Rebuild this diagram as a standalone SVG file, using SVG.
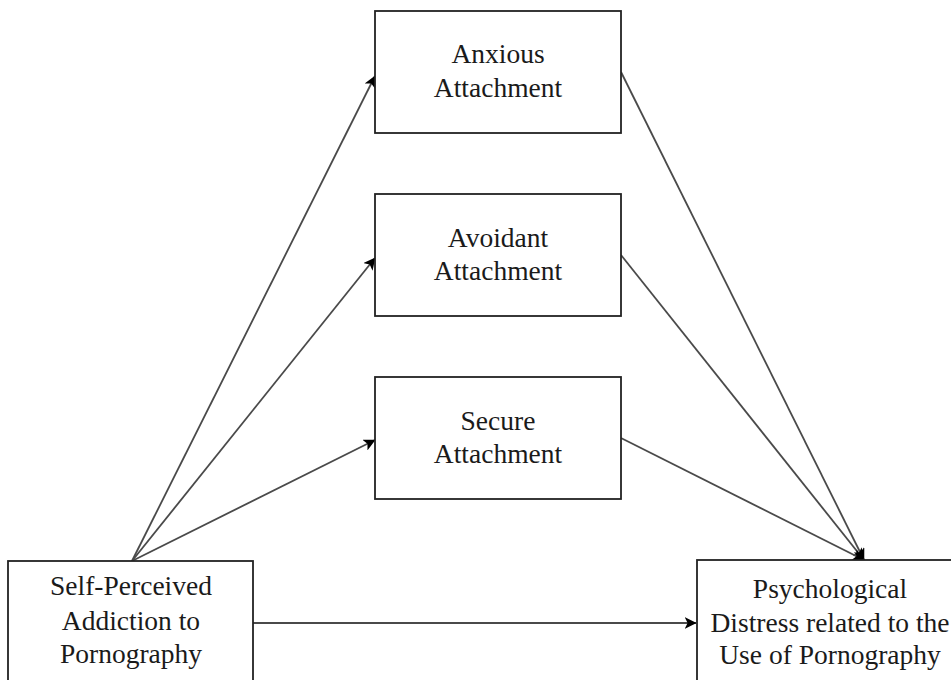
<svg xmlns="http://www.w3.org/2000/svg" width="951" height="680" viewBox="0 0 951 680">
<defs>
<marker id="ah2" viewBox="0 0 10 10" refX="9.5" refY="5" markerWidth="12" markerHeight="12" markerUnits="userSpaceOnUse" orient="auto"><path d="M0,0 L10,5 L0,10 L2.5,5 Z" fill="#000"/></marker>
</defs>
<style>
.box{fill:#fff;stroke:#222;stroke-width:1.8}
.t{font-family:"Liberation Serif","Times New Roman",serif;font-size:27.5px;fill:#1a1a1a;text-anchor:middle}
.c{stroke:#4a4a4a;stroke-width:1.8;fill:none}
</style>
<rect width="951" height="680" fill="#fff"/>
<g id="connectors">
<line class="c" x1="132" y1="561" x2="375" y2="76" marker-end="url(#ah2)"/>
<line class="c" x1="132" y1="561" x2="375" y2="258" marker-end="url(#ah2)"/>
<line class="c" x1="132" y1="561" x2="375" y2="440" marker-end="url(#ah2)"/>
<line class="c" x1="621" y1="72" x2="864" y2="560" marker-end="url(#ah2)"/>
<line class="c" x1="621" y1="255" x2="864" y2="560" marker-end="url(#ah2)"/>
<line class="c" x1="621" y1="438" x2="864" y2="560" marker-end="url(#ah2)"/>
<line class="c" x1="253" y1="623" x2="696" y2="623" marker-end="url(#ah2)"/>
</g>
<g id="anxious">
<rect class="box" x="375" y="11" width="246" height="122"/>
<text class="t" x="498" y="63">Anxious</text>
<text class="t" x="498" y="97">Attachment</text>
</g>
<g id="avoidant">
<rect class="box" x="375" y="194" width="246" height="122"/>
<text class="t" x="498" y="247">Avoidant</text>
<text class="t" x="498" y="280">Attachment</text>
</g>
<g id="secure">
<rect class="box" x="375" y="377" width="246" height="122"/>
<text class="t" x="498" y="430">Secure</text>
<text class="t" x="498" y="463">Attachment</text>
</g>
<g id="self-perceived">
<rect class="box" x="8" y="561" width="245" height="130"/>
<text class="t" x="131" y="595">Self-Perceived</text>
<text class="t" x="131" y="630">Addiction to</text>
<text class="t" x="131" y="663">Pornography</text>
</g>
<g id="distress">
<rect class="box" x="697" y="560" width="268" height="130"/>
<text class="t" x="830" y="598">Psychological</text>
<text class="t" x="830" y="632">Distress related to the</text>
<text class="t" x="830" y="664">Use of Pornography</text>
</g>
</svg>
